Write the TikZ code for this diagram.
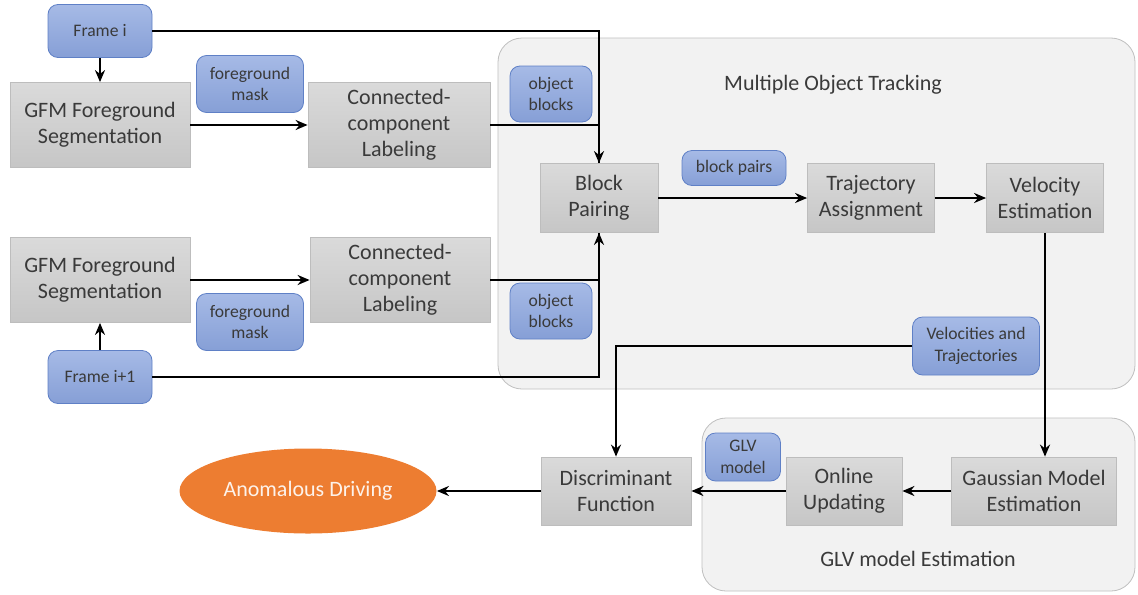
\documentclass[tikz,border=0pt]{standalone}
\usepackage{fontspec}
\setmainfont{Carlito}
\usetikzlibrary{arrows.meta,shapes.geometric}
\definecolor{boxtop}{HTML}{DADADA}
\definecolor{boxbot}{HTML}{C6C6C6}
\definecolor{boxline}{HTML}{BDBDBD}
\definecolor{tagtop}{HTML}{A6BAE6}
\definecolor{tagbot}{HTML}{869FD6}
\definecolor{tagline}{HTML}{5F80C6}
\definecolor{grpfill}{HTML}{F2F2F2}
\definecolor{grpline}{HTML}{BFBFBF}
\definecolor{alarm}{HTML}{ED7D31}
\definecolor{ink}{HTML}{3A3A3A}
\tikzset{
	box/.style={draw=boxline, top color=boxtop, bottom color=boxbot, inner sep=1pt,
			align=center, text=ink, font=\fontsize{11}{13}\selectfont},
	tag/.style={draw=tagline, top color=tagtop, bottom color=tagbot, rounded corners=5pt,
			inner sep=1pt, align=center, text=ink, font=\fontsize{8.8}{10.8}\selectfont},
	group/.style={draw=grpline, fill=grpfill, rounded corners=12pt},
	flow/.style={-{Stealth[length=6pt,width=5pt]}, line width=1.1pt},
	wire/.style={line width=1.1pt}
}

\begin{document}
\begin{tikzpicture}[x=0.5pt,y=-0.5pt]
	\useasboundingbox (0,0) rectangle (1138,594);

	% Group panels
	\draw [group] (498,38) rectangle (1135,389);
	\draw [group] (702,418) rectangle (1135,591);
	\node [text=ink, font=\fontsize{11}{13}\selectfont] (mottitle) at (833,85) {Multiple Object Tracking};
	\node [text=ink, font=\fontsize{11}{13}\selectfont] (glvtitle) at (918,559) {GLV model Estimation};

	% Frame i branch
	\node [tag, minimum width=52pt, minimum height=26.5pt] (fr1) at (100,31) {Frame i};
	\node [box, minimum width=90pt, minimum height=42.5pt] (gfm1) at (100,125) {GFM Foreground\\Segmentation};
	\node [tag, minimum width=53.5pt, minimum height=28.5pt] (fm1) at (250,84) {foreground\\mask};
	\node [box, minimum width=91pt, minimum height=42.5pt] (cc1) at (399,125) {Connected-\\component\\Labeling};
	\node [tag, minimum width=41pt, minimum height=28pt] (ob1) at (551,94) {object\\blocks};

	% Frame i+1 branch
	\node [tag, minimum width=52pt, minimum height=26.5pt] (fr2) at (100,377) {Frame i+1};
	\node [box, minimum width=90pt, minimum height=42.5pt] (gfm2) at (100,280) {GFM Foreground\\Segmentation};
	\node [tag, minimum width=53.5pt, minimum height=28.5pt] (fm2) at (250,322) {foreground\\mask};
	\node [box, minimum width=90pt, minimum height=42.5pt] (cc2) at (400,280) {Connected-\\component\\Labeling};
	\node [tag, minimum width=41pt, minimum height=28pt] (ob2) at (551,311) {object\\blocks};

	% Tracking
	\node [box, minimum width=59pt, minimum height=34.5pt] (bp) at (599,198) {Block\\Pairing};
	\node [tag, minimum width=52pt, minimum height=17.5pt] (bpr) at (734,168) {block pairs};
	\node [box, minimum width=63.5pt, minimum height=34.5pt] (ta) at (871,198) {Trajectory\\Assignment};
	\node [box, minimum width=58.5pt, minimum height=34.5pt] (ve) at (1045,198) {Velocity\\Estimation};
	\node [tag, minimum width=63.5pt, minimum height=29pt] (vt) at (976,346) {Velocities and\\Trajectories};

	% Model and decision
	\node [box, minimum width=82.5pt, minimum height=34pt] (gme) at (1034,491) {Gaussian Model\\Estimation};
	\node [box, minimum width=58pt, minimum height=34pt] (ou) at (844,491) {Online\\Updating};
	\node [tag, minimum width=37.5pt, minimum height=24pt] (glv) at (743,457) {GLV\\model};
	\node [box, minimum width=75pt, minimum height=34pt] (df) at (616,491) {Discriminant\\Function};
	\node [ellipse, fill=alarm, minimum width=128.5pt, minimum height=42.5pt, inner sep=0pt,
		text=white!90!alarm, font=\fontsize{11}{13}\selectfont] (ad) at (308,491) {Anomalous Driving};

	% Connectors
	\draw [flow] (fr1) -- (gfm1);
	\draw [flow] (gfm1) -- (cc1);
	\draw [flow] (fr1.east) -| (bp.north);
	\draw [wire] (cc1.east) -| (bp.north);
	\draw [flow] (fr2) -- (gfm2);
	\draw [flow] (gfm2) -- (cc2);
	\draw [flow] (fr2.east) -| (bp.south);
	\draw [wire] (cc2.east) -| (bp.south);
	\draw [flow] (bp) -- (ta);
	\draw [flow] (ta) -- (ve);
	\draw [flow] (ve.south) -- (ve.south |- gme.north);
	\draw [flow] (vt.west) -| (df.north);
	\draw [flow] (gme) -- (ou);
	\draw [flow] (ou) -- (df);
	\draw [flow] (df) -- (ad);
\end{tikzpicture}
\end{document}
